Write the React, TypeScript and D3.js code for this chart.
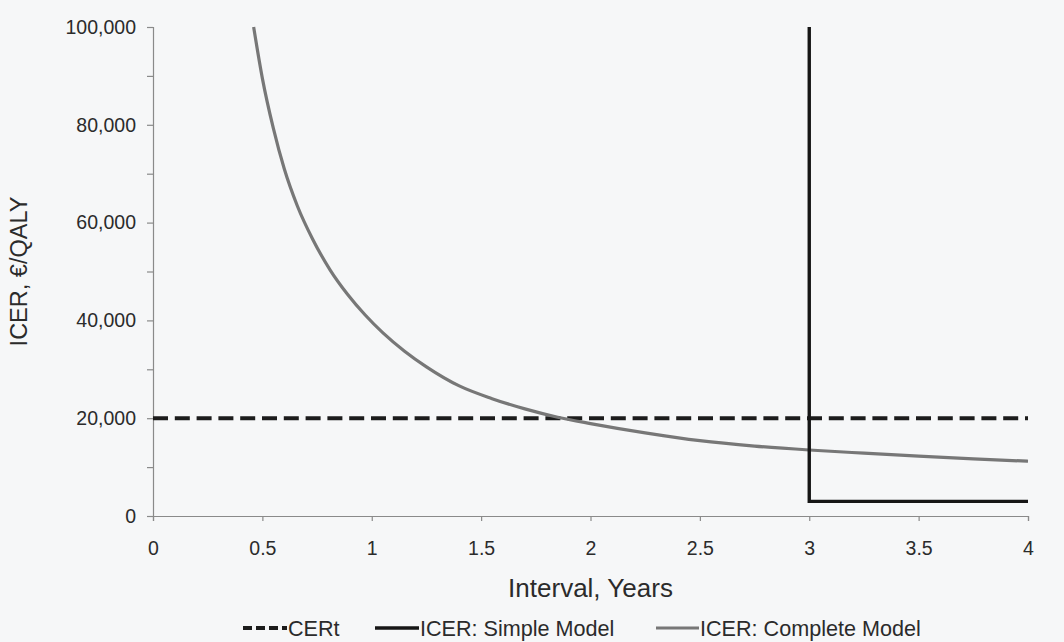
import React, { useEffect, useRef } from "react";
import * as d3 from "d3";

// Interval (years) against ICER (€/QALY)
const completeIntervals = [0.46, 0.5, 0.55, 0.6, 0.66, 0.73, 0.81, 0.89, 0.97, 1.05, 1.15, 1.25, 1.4, 1.55, 1.7, 1.85, 2.0, 2.25, 2.5, 2.75, 3.0, 3.25, 3.5, 3.75, 4.0];
const completeIcer = [100000, 89500, 79300, 71000, 63400, 56600, 50300, 45300, 41100, 37500, 33700, 30500, 26600, 24000, 21900, 20200, 18900, 17000, 15400, 14300, 13500, 12850, 12250, 11700, 11200];

const simpleIntervals = [3, 3, 4];
const simpleIcer = [100000, 3000, 3000];

const certIntervals = [0, 4];
const certIcer = [20000, 20000];

const xTicks = [0, 0.5, 1, 1.5, 2, 2.5, 3, 3.5, 4];
const yTicks = [0, 10000, 20000, 30000, 40000, 50000, 60000, 70000, 80000, 90000, 100000];
const yLabelled = [0, 20000, 40000, 60000, 80000, 100000];

const legendNames = ["CERt", "ICER: Simple Model", "ICER: Complete Model"];

const W = 1064;
const H = 642;
const FONT = "'Liberation Sans', Arial, Helvetica, sans-serif";

export default function App() {
  const ref = useRef<SVGSVGElement | null>(null);

  useEffect(() => {
    const svg = d3.select(ref.current);
    svg.selectAll("*").remove();

    const x = d3.scaleLinear().domain([0, 4]).range([153, 1028]);
    const y = d3.scaleLinear().domain([0, 100000]).range([516, 27]);

    svg.append("rect").attr("width", W).attr("height", H).attr("fill", "#f6f7f8");

    const fmt = d3.format(",");

    // y axis
    const yAxis = svg
      .append("g")
      .attr("transform", `translate(${x(0)},0)`)
      .call(
        d3
          .axisLeft(y)
          .tickValues(yTicks)
          .tickSize(6)
          .tickPadding(11)
          .tickFormat((d) => (yLabelled.includes(+d) ? fmt(+d) : ""))
      );
    // x axis
    const xAxis = svg
      .append("g")
      .attr("transform", `translate(0,${y(0)})`)
      .call(
        d3
          .axisBottom(x)
          .tickValues(xTicks)
          .tickSize(5)
          .tickPadding(20)
          .tickFormat((d) => String(+d))
      );
    [yAxis, xAxis].forEach((g) => {
      g.select(".domain").attr("stroke", "#8a8a8a").attr("stroke-width", 1.2);
      g.selectAll(".tick line").attr("stroke", "#8a8a8a").attr("stroke-width", 1.2);
      g.selectAll(".tick text")
        .attr("fill", "#2b2b2b")
        .style("font-family", FONT)
        .style("font-size", "19.5px");
    });

    // axis titles
    svg
      .append("text")
      .attr("x", x(2))
      .attr("y", 597)
      .attr("text-anchor", "middle")
      .attr("fill", "#2b2b2b")
      .style("font-family", FONT)
      .style("font-size", "26px")
      .text("Interval, Years");
    svg
      .append("text")
      .attr("transform", `translate(27,${y(50000)}) rotate(-90)`)
      .attr("text-anchor", "middle")
      .attr("fill", "#2b2b2b")
      .style("font-family", FONT)
      .style("font-size", "23.5px")
      .text("ICER, €/QALY");

    const line = d3
      .line<[number, number]>()
      .x((d) => x(d[0]))
      .y((d) => y(d[1]));

    const complete = completeIntervals.map((v, i) => [v, completeIcer[i]] as [number, number]);
    const simple = simpleIntervals.map((v, i) => [v, simpleIcer[i]] as [number, number]);
    const cert = certIntervals.map((v, i) => [v, certIcer[i]] as [number, number]);

    // CERt threshold
    svg
      .append("path")
      .attr("d", line(cert))
      .attr("fill", "none")
      .attr("stroke", "#1c1c1c")
      .attr("stroke-width", 4)
      .attr("stroke-dasharray", "15 6.8");

    // complete model curve
    svg
      .append("path")
      .attr("d", line.curve(d3.curveMonotoneX)(complete))
      .attr("fill", "none")
      .attr("stroke", "#777777")
      .attr("stroke-width", 3.2);

    // simple model step
    svg
      .append("path")
      .attr("d", line.curve(d3.curveLinear)(simple))
      .attr("fill", "none")
      .attr("stroke", "#161616")
      .attr("stroke-width", 3.4)
      .attr("stroke-linejoin", "miter");

    // legend
    const legendY = 628;
    const items = [
      { x0: 243, x1: 287, color: "#1c1c1c", dash: "9 4", width: 4 },
      { x0: 375, x1: 419, color: "#161616", dash: null, width: 3.4 },
      { x0: 656, x1: 699, color: "#777777", dash: null, width: 3.2 },
    ];
    items.forEach((it, i) => {
      const l = svg
        .append("line")
        .attr("x1", it.x0)
        .attr("x2", it.x1)
        .attr("y1", legendY)
        .attr("y2", legendY)
        .attr("stroke", it.color)
        .attr("stroke-width", it.width);
      if (it.dash) l.attr("stroke-dasharray", it.dash);
      svg
        .append("text")
        .attr("x", it.x1 + 1)
        .attr("y", legendY)
        .attr("dy", "0.36em")
        .attr("fill", "#2b2b2b")
        .style("font-family", FONT)
        .style("font-size", "21.6px")
        .text(legendNames[i]);
    });
  }, []);

  return (
    <svg
      ref={ref}
      width={W}
      height={H}
      style={{ position: "absolute", left: 0, top: 0, display: "block" }}
    />
  );
}
